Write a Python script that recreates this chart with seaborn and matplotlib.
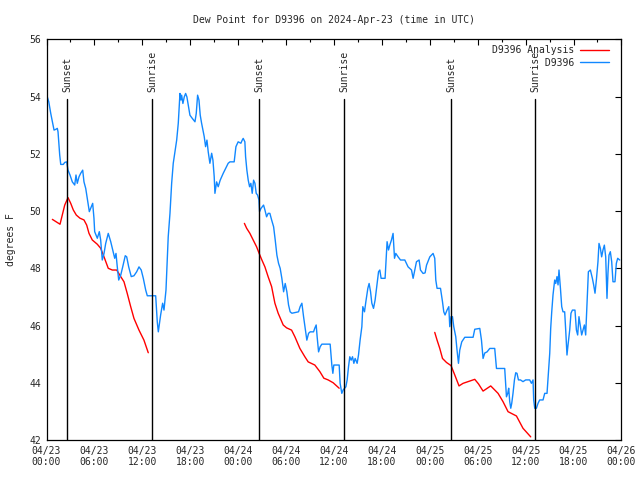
import pandas as pd
import matplotlib
matplotlib.use("Agg")
import matplotlib.pyplot as plt
import matplotlib.dates as mdates
import seaborn as sns

sns.set_style("white")
plt.rcParams['font.family'] = ['DejaVu Sans Mono', 'DejaVu Sans']
plt.rcParams['font.size'] = 7

START = pd.Timestamp("2024-04-23 00:00")

# station obs, hours after 04/23 00:00 UTC
obs_hours = [0.06, 0.28, 0.53, 0.69, 0.94, 1.19, 1.35, 1.44, 1.65, 1.78, 2.10, 2.28, 2.53, 2.69, 2.94,
             3.23, 3.53, 3.69, 3.85, 4.07, 4.28, 4.53, 4.69, 4.91, 5.11, 5.36, 5.61, 5.78, 5.94, 6.03,
             6.36, 6.61, 6.78, 6.98, 7.20, 7.41, 7.73, 8.04, 8.29, 8.54, 8.70, 8.86, 9.04, 9.29, 9.54,
             9.86, 10.04, 10.29, 10.61, 10.95, 11.29, 11.58, 11.86, 12.12, 12.42, 12.62, 13.67, 13.87, 14.00, 14.29,
             14.54, 14.71, 14.96, 15.24, 15.46, 15.67, 15.87, 16.08, 16.30, 16.50, 16.71, 16.83, 16.92, 17.08, 17.25,
             17.42, 17.58, 17.75, 17.96, 18.25, 18.59, 18.75, 18.92, 19.09, 19.25, 19.42, 19.59, 19.75, 19.92, 20.09,
             20.25, 20.46, 20.68, 20.84, 21.00, 21.09, 21.30, 21.50, 21.75, 22.13, 22.43, 22.75, 22.97, 23.50, 23.72,
             24.00, 24.34, 24.51, 24.63, 24.84, 24.93, 25.09, 25.26, 25.43, 25.59, 25.76, 25.93, 26.10, 26.26, 26.43,
             26.60, 26.68, 26.85, 27.18, 27.35, 27.56, 27.76, 27.97, 28.19, 28.44, 28.64, 28.85, 29.06, 29.26, 29.47,
             29.69, 29.89, 30.10, 30.31, 30.51, 30.73, 31.56, 31.76, 31.98, 32.19, 32.39, 32.60, 32.82, 33.02, 33.44,
             33.60, 33.77, 33.89, 34.07, 34.27, 34.48, 35.52, 35.73, 35.86, 35.98, 36.65, 36.77, 36.98, 37.15, 37.49,
             37.65, 37.82, 37.98, 38.15, 38.32, 38.49, 38.65, 38.90, 39.07, 39.27, 39.49, 39.61, 39.82, 39.99, 40.24,
             40.40, 40.58, 40.74, 40.95, 41.15, 41.36, 41.58, 41.74, 41.90, 42.40, 42.58, 42.65, 42.83, 42.99, 43.20,
             43.40, 43.58, 43.74, 44.03, 44.33, 44.87, 45.28, 45.71, 45.91, 46.12, 46.33, 46.66, 46.83, 47.16, 47.41,
             47.59, 48.00, 48.41, 48.62, 48.75, 48.91, 49.34, 49.59, 49.75, 49.91, 50.16, 50.38, 50.50, 50.66, 50.84,
             51.00, 51.25, 51.41, 51.59, 51.75, 52.00, 52.38, 53.42, 53.63, 54.26, 54.47, 54.67, 54.88, 55.17, 55.51,
             56.13, 56.35, 57.38, 57.60, 57.76, 57.88, 58.01, 58.14, 58.26, 58.42, 58.60, 58.76, 58.92, 59.10, 59.35,
             59.67, 60.01, 60.51, 60.73, 60.93, 61.01, 61.14, 61.35, 61.55, 61.76, 62.18, 62.39, 62.68, 62.85, 63.02,
             63.14, 63.27, 63.43, 63.64, 63.77, 63.93, 64.06, 64.18, 64.36, 64.52, 64.68, 64.89, 65.02, 65.18, 65.31,
             65.52, 65.68, 65.86, 66.18, 66.36, 66.52, 66.68, 66.86, 67.02, 67.36, 67.52, 67.68, 67.86, 68.11, 68.36,
             68.52, 68.69, 68.86, 69.06, 69.19, 69.36, 69.52, 69.69, 69.86, 70.03, 70.19, 70.31, 70.44, 70.61, 70.78,
             70.94, 71.19, 71.36, 71.53, 71.78]
obs_dewpt = [54.02, 53.82, 53.41, 53.18, 52.83, 52.86, 52.89, 52.77, 51.96, 51.63, 51.63, 51.70, 51.72, 51.43, 51.26,
             51.02, 50.91, 51.26, 50.97, 51.20, 51.32, 51.43, 51.02, 50.79, 50.44, 49.98, 50.15, 50.27, 49.75, 49.28,
             49.05, 49.28, 48.99, 48.29, 48.52, 48.87, 49.22, 48.93, 48.64, 48.35, 48.52, 48.05, 47.59, 47.76, 48.05,
             48.44, 48.40, 48.05, 47.71, 47.74, 47.88, 48.05, 47.94, 47.65, 47.24, 47.04, 47.04, 46.13, 45.78, 46.37,
             46.78, 46.54, 47.24, 49.10, 49.92, 50.97, 51.67, 52.07, 52.48, 53.07, 54.11, 53.88, 54.05, 53.76, 53.99,
             54.11, 53.99, 53.70, 53.35, 53.24, 53.12, 53.41, 54.05, 53.88, 53.35, 53.07, 52.83, 52.60, 52.25, 52.48,
             52.07, 51.67, 52.02, 51.78, 51.20, 50.62, 51.02, 50.85, 51.08, 51.32, 51.49, 51.67, 51.72, 51.72, 52.25,
             52.42, 52.37, 52.48, 52.54, 52.42, 51.90, 51.43, 51.08, 50.85, 50.97, 50.62, 51.08, 50.97, 50.62, 50.56,
             50.39, 49.98, 50.09, 50.21, 50.04, 49.80, 49.92, 49.92, 49.69, 49.45, 48.99, 48.46, 48.17, 48.00, 47.65,
             47.18, 47.47, 47.18, 46.72, 46.48, 46.43, 46.48, 46.66, 46.78, 46.31, 45.90, 45.49, 45.73, 45.78, 45.78,
             45.91, 46.02, 45.61, 45.08, 45.26, 45.35, 45.35, 44.62, 44.33, 44.62, 44.62, 43.98, 43.63, 43.75, 43.86,
             44.10, 44.56, 44.91, 44.79, 44.91, 44.68, 44.85, 44.68, 44.97, 45.49, 45.96, 46.66, 46.48, 46.83, 47.30,
             47.47, 47.18, 46.78, 46.60, 46.89, 47.36, 47.88, 47.94, 47.65, 47.65, 48.58, 48.93, 48.64, 48.81, 48.99,
             49.22, 48.35, 48.52, 48.40, 48.29, 48.29, 48.05, 47.94, 47.65, 47.94, 48.23, 48.29, 47.94, 47.82, 47.84,
             48.11, 48.40, 48.52, 48.35, 47.59, 47.30, 47.30, 46.83, 46.48, 46.37, 46.54, 46.66, 45.96, 46.31, 46.31,
             45.96, 45.61, 45.14, 44.68, 45.14, 45.43, 45.59, 45.59, 45.87, 45.90, 45.49, 44.85, 45.04, 45.08, 45.20,
             45.20, 44.50, 44.50, 43.51, 43.63, 43.81, 43.34, 43.11, 43.28, 43.63, 44.10, 44.35, 44.33, 44.10, 44.10,
             44.04, 44.10, 44.10, 43.98, 44.10, 43.40, 43.11, 43.11, 43.28, 43.40, 43.40, 43.63, 43.63, 44.33, 45.03,
             45.90, 46.48, 47.07, 47.59, 47.47, 47.71, 47.42, 47.94, 47.30, 46.66, 46.48, 46.48, 45.84, 44.97, 45.32,
             45.84, 46.43, 46.54, 46.54, 45.84, 45.67, 46.31, 45.96, 45.67, 46.02, 45.67, 46.72, 47.88, 47.94, 47.65,
             47.42, 47.13, 47.59, 48.23, 48.87, 48.70, 48.40, 48.64, 48.81, 48.40, 46.95, 47.82, 48.46, 48.58, 48.23,
             47.53, 47.53, 48.17, 48.35, 48.29]

# analysis runs (three separate segments)
ana_run = [1] * 26 + [2] * 25 + [3] * 20
ana_hours = [0.73, 1.69, 2.28, 2.69, 3.03, 3.35, 3.73, 4.19, 4.69, 5.03, 5.32, 5.73, 6.36, 6.78, 7.20,
             7.73, 8.24, 8.79, 9.29, 9.70, 10.11, 10.54, 10.95, 11.58, 12.20, 12.74,
             24.78, 25.06, 25.47, 25.88, 26.31, 26.63, 26.97, 27.35, 27.76, 28.19, 28.60, 29.01, 29.64, 30.06, 30.69,
             31.10, 31.73, 32.35, 32.77, 33.60, 34.23, 34.73, 35.27, 35.90, 36.65,
             48.62, 48.91, 49.25, 49.59, 50.09, 50.66, 51.13, 51.66, 52.16, 52.79, 53.63, 54.10, 54.67, 55.63, 56.55,
             57.17, 57.80, 58.85, 59.67, 60.64]
ana_dewpt = [49.71, 49.54, 50.21, 50.47, 50.27, 50.04, 49.86, 49.75, 49.69, 49.51, 49.22, 48.99, 48.84, 48.70, 48.40,
             48.00, 47.94, 47.94, 47.71, 47.53, 47.12, 46.66, 46.25, 45.84, 45.49, 45.05,
             49.57, 49.40, 49.22, 48.99, 48.75, 48.52, 48.29, 48.05, 47.70, 47.36, 46.78, 46.43, 46.02, 45.92, 45.84,
             45.61, 45.20, 44.91, 44.73, 44.62, 44.39, 44.16, 44.10, 44.00, 43.81,
             45.76, 45.49, 45.20, 44.85, 44.71, 44.60, 44.27, 43.89, 43.98, 44.04, 44.12, 43.96, 43.71, 43.89, 43.63,
             43.34, 42.99, 42.84, 42.41, 42.11]

sunset_times = ["2024-04-23 02:37", "2024-04-24 02:38", "2024-04-25 02:40"]
sunrise_times = ["2024-04-23 13:14", "2024-04-24 13:16", "2024-04-25 13:11"]

obs = pd.DataFrame({"hours": obs_hours, "dewpt": obs_dewpt, "series": "D9396", "run": 0})
ana = pd.DataFrame({"hours": ana_hours, "dewpt": ana_dewpt, "series": "D9396 Analysis", "run": ana_run})
df = pd.concat([ana, obs], ignore_index=True)
df["time"] = START + pd.to_timedelta(df["hours"], unit="h")

fig, ax = plt.subplots(figsize=(6.4, 4.8), dpi=100)
fig.subplots_adjust(left=0.0727, right=0.971, bottom=0.0833, top=0.918)

sns.lineplot(data=df, x="time", y="dewpt", hue="series", units="run", estimator=None,
             hue_order=["D9396 Analysis", "D9396"],
             palette={"D9396 Analysis": "#ff0000", "D9396": "#1188ff"},
             linewidth=1.0, ax=ax)

for t in sunset_times:
    ax.axvline(pd.Timestamp(t), ymax=0.851, color="black", lw=1.0)
    ax.text(pd.Timestamp(t), 0.868, "Sunset", rotation=90, ha="center", va="bottom",
            transform=ax.get_xaxis_transform())
for t in sunrise_times:
    ax.axvline(pd.Timestamp(t), ymax=0.851, color="black", lw=1.0)
    ax.text(pd.Timestamp(t), 0.868, "Sunrise", rotation=90, ha="center", va="bottom",
            transform=ax.get_xaxis_transform())

ax.set_xlim(START, pd.Timestamp("2024-04-26 00:00"))
ax.set_ylim(42, 56)
ax.set_yticks(range(42, 57, 2))
ax.xaxis.set_major_locator(mdates.HourLocator(byhour=range(0, 24, 6)))
ax.xaxis.set_minor_locator(mdates.HourLocator(byhour=range(0, 24, 3)))
ax.xaxis.set_major_formatter(mdates.DateFormatter("%m/%d\n%H:%M"))
ax.tick_params(which="both", direction="in", top=True, right=True, color="black")
ax.tick_params(which="major", length=4, width=0.8)
ax.tick_params(which="minor", length=2, width=0.8)
ax.tick_params(axis="x", pad=4)
ax.tick_params(axis="y", pad=4)
for s in ax.spines.values():
    s.set_color("black")
    s.set_linewidth(0.9)

ax.set_title("Dew Point for D9396 on 2024-Apr-23 (time in UTC)", fontsize=7, pad=12)
ax.set_xlabel("")
ax.set_ylabel("degrees F")
ax.yaxis.set_label_coords(-0.053, 0.5)

handles, labels = ax.get_legend_handles_labels()
width = max(len(l) for l in labels)
labels = [l.rjust(width) for l in labels]
ax.legend(handles, labels, loc="upper right", bbox_to_anchor=(0.991, 1.0025), frameon=False,
          markerfirst=False, handlelength=3.0, handletextpad=0.6, borderaxespad=0.3, labelspacing=0.25)

fig.savefig("out.png", dpi=100)
